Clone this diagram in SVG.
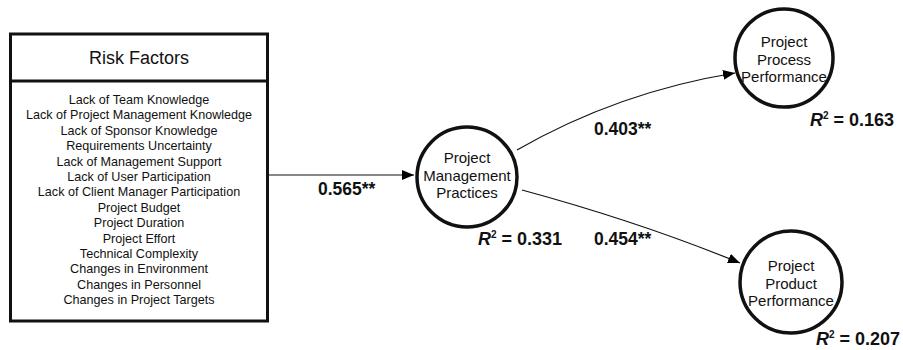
<svg xmlns="http://www.w3.org/2000/svg" width="903" height="350" viewBox="0 0 903 350">
<defs>
<marker id="arr" markerWidth="12" markerHeight="10" refX="12" refY="5" orient="auto" markerUnits="userSpaceOnUse">
<path d="M0,0 L12,5 L0,10 Z" fill="#000"/>
</marker>
<style>
text{font-family:"Liberation Sans",Arial,sans-serif;fill:#111}
.item{font-size:12.6px;text-anchor:middle}
.node{font-size:15px;text-anchor:middle}
.lbl{font-size:17.5px;font-weight:bold}
.r2{font-size:18px;font-weight:bold}
.circ{fill:#fff;stroke:#111;stroke-width:3.5}
.conn{fill:none;stroke:#111;stroke-width:1.2}
</style>
</defs>
<rect width="903" height="350" fill="#fff"/>
<g id="connectors">
<line class="conn" x1="268" y1="175" x2="414" y2="175" marker-end="url(#arr)"/>
<path class="conn" d="M517,150 Q618,92 735,73" marker-end="url(#arr)"/>
<path class="conn" d="M522,190 Q640,222 740,263" marker-end="url(#arr)"/>
</g>
<g id="risk-factors">
<rect x="10.5" y="34" width="257" height="287" fill="#fff" stroke="#111" stroke-width="3"/>
<line x1="10.5" y1="81" x2="267.5" y2="81" stroke="#111" stroke-width="3"/>
<text x="139" y="64" style="font-size:18px;text-anchor:middle">Risk Factors</text>
<text class="item" x="139" y="104">Lack of Team Knowledge</text>
<text class="item" x="139" y="119.4">Lack of Project Management Knowledge</text>
<text class="item" x="139" y="134.8">Lack of Sponsor Knowledge</text>
<text class="item" x="139" y="150.1">Requirements Uncertainty</text>
<text class="item" x="139" y="165.5">Lack of Management Support</text>
<text class="item" x="139" y="180.9">Lack of User Participation</text>
<text class="item" x="139" y="196.3">Lack of Client Manager Participation</text>
<text class="item" x="139" y="211.7">Project Budget</text>
<text class="item" x="139" y="227.1">Project Duration</text>
<text class="item" x="139" y="242.5">Project Effort</text>
<text class="item" x="139" y="257.8">Technical Complexity</text>
<text class="item" x="139" y="273.2">Changes in Environment</text>
<text class="item" x="139" y="288.6">Changes in Personnel</text>
<text class="item" x="139" y="304">Changes in Project Targets</text>
</g>
<g id="pm-practices">
<circle class="circ" cx="467" cy="177" r="50"/>
<text class="node" x="467" y="163">Project</text>
<text class="node" x="467" y="180.5">Management</text>
<text class="node" x="467" y="198">Practices</text>
<text class="r2" x="478" y="245"><tspan font-style="italic">R</tspan><tspan dy="-7" font-size="10">2</tspan><tspan dy="7"> = 0.331</tspan></text>
</g>
<g id="process-performance">
<circle class="circ" cx="784" cy="58" r="49"/>
<text class="node" x="784" y="47">Project</text>
<text class="node" x="784" y="64.5">Process</text>
<text class="node" x="784" y="82">Performance</text>
<text class="r2" x="810" y="126"><tspan font-style="italic">R</tspan><tspan dy="-7" font-size="10">2</tspan><tspan dy="7"> = 0.163</tspan></text>
</g>
<g id="product-performance">
<circle class="circ" cx="791" cy="282" r="51"/>
<text class="node" x="791" y="271">Project</text>
<text class="node" x="791" y="288.5">Product</text>
<text class="node" x="791" y="306">Performance</text>
<text class="r2" x="816" y="345"><tspan font-style="italic">R</tspan><tspan dy="-7" font-size="10">2</tspan><tspan dy="7"> = 0.207</tspan></text>
</g>
<g id="labels">
<text class="lbl" x="318" y="195">0.565**</text>
<text class="lbl" x="594" y="135">0.403**</text>
<text class="lbl" x="594" y="245">0.454**</text>
</g>
</svg>
